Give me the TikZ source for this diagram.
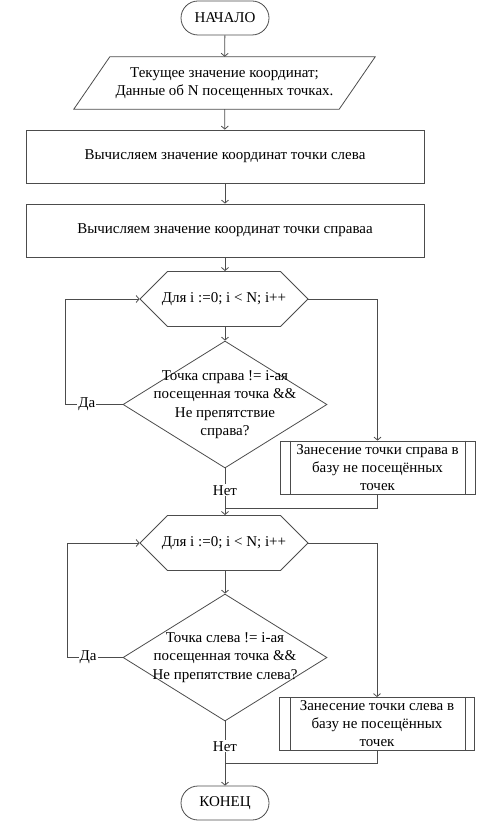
\documentclass[tikz,border=0pt]{standalone}
\usepackage{fontspec}
\setmainfont{Liberation Serif}
\usetikzlibrary{shapes.geometric,shapes.misc,arrows.meta,calc}

\tikzset{
  base/.style={draw=black!70, line width=0.8pt, font=\fontsize{15}{18}\selectfont, align=center, inner sep=0pt},
  term/.style={base, rounded corners=17pt, minimum width=88pt, minimum height=34pt},
  io/.style={font=\fontsize{15}{17.7}\selectfont, align=center, inner sep=0pt, minimum width=265pt, minimum height=52pt},
  proc/.style={base, rectangle, minimum width=398pt, minimum height=53pt},
  loopbox/.style={base, chamfered rectangle, chamfered rectangle xsep=17pt,
    chamfered rectangle ysep=21pt, minimum width=168pt, minimum height=42pt},
  decision/.style={base, diamond, aspect=1.6, minimum width=204pt, minimum height=127pt},
  subproc/.style={base, rectangle, minimum width=195pt, minimum height=53pt},
  txt/.style={font=\fontsize{15}{18.3}\selectfont, align=center, inner sep=0pt},
  lbl/.style={font=\fontsize{15}{18}\selectfont, fill=white, inner sep=1pt},
  line/.style={draw=black!70, line width=0.8pt},
  arrow/.style={line, -{Straight Barb[length=3pt,width=7pt]}}
}

\begin{document}
\begin{tikzpicture}[x=1pt,y=-1pt]
\useasboundingbox (0,0) rectangle (490,826);

% The boxes
\node[term] (start) at (225,18) {НАЧАЛО};
\node[io] (in) at (224.5,83) {Текущее значение координат;\\Данные об N посещенных точках.};
\draw[line] ([xshift=18pt]in.north west) -- ([xshift=18pt]in.north east)
  -- ([xshift=-18pt]in.south east) -- ([xshift=-18pt]in.south west) -- cycle;
\node[proc] (left) at (225,156.5) {Вычисляем значение координат точки слева};
\node[proc] (right) at (225,230.5) {Вычисляем значение координат точки справаа};

% The first loop
\node[loopbox] (for1) at (224,299) {Для i :=0; i < N; i++};
\node[decision, label={[txt]center:{Точка справа != i-ая\\посещенная точка \&\&\\Не препятствие\\справа?}}] (check1) at (225,404.5) {};
\node[subproc] (save1) at (377.5,467.5) {Занесение точки справа в\\базу не посещённых\\точек};
\coordinate (back1) at (65,404.5);
\coordinate (join1) at (225,508);

% The second loop
\node[loopbox] (for2) at (224,543) {Для i :=0; i < N; i++};
\node[decision, label={[txt]center:{Точка слева != i-ая\\посещенная точка \&\&\\Не препятствие слева?}}] (check2) at (225,657.5) {};
\node[subproc] (save2) at (377,724) {Занесение точки слева в\\базу не посещённых\\точек};
\coordinate (back2) at (67,657.5);
\coordinate (join2) at (225,763);

\node[term] (stop) at (225,803) {КОНЕЦ};

% The double side lines
\draw[line] ([xshift=11pt]save1.north west) -- ([xshift=11pt]save1.south west);
\draw[line] ([xshift=-10pt]save1.north east) -- ([xshift=-10pt]save1.south east);
\draw[line] ([xshift=11pt]save2.north west) -- ([xshift=11pt]save2.south west);
\draw[line] ([xshift=-10pt]save2.north east) -- ([xshift=-10pt]save2.south east);

% The main flow
\draw[arrow] (start) -- (in);
\draw[arrow] (in) -- (left);
\draw[arrow] (left) -- (right);
\draw[arrow] (right) -- (right.south |- for1.north);
\draw[arrow] (for1.south -| check1.north) -- (check1.north);
\draw[line] (check1.south) -- node[lbl,pos=0.55]{Нет} (join1);
\draw[line] (save1.south) |- (join1);
\draw[arrow] (join1) -- (join1 |- for2.north);
\draw[arrow] (for2.south -| check2.north) -- (check2.north);
\draw[line] (check2.south) -- node[lbl,pos=0.6]{Нет} (join2);
\draw[line] (save2.south) |- (join2);
\draw[arrow] (join2) -- (stop);

% The loop returns
\draw[arrow] (check1.west) -- node[lbl,pos=0.62]{Да} (back1) |- (for1.west);
\draw[arrow] (for1.east) -| (save1.north);
\draw[arrow] (check2.west) -- node[lbl,pos=0.62]{Да} (back2) |- (for2.west);
\draw[arrow] (for2.east) -| (save2.north);

\end{tikzpicture}
\end{document}
